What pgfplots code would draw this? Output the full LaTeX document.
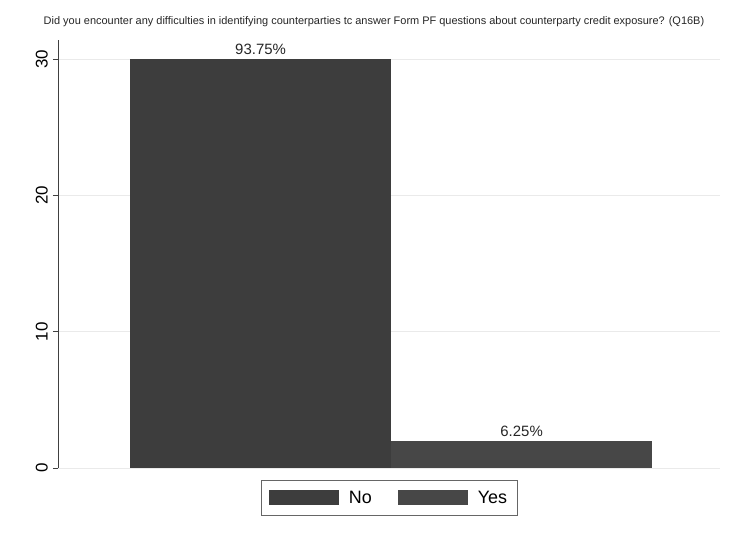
\documentclass[border=0pt]{standalone}
\usepackage{pgfplots}
\pgfplotsset{compat=1.18}
\usepackage{fontspec}
\setmainfont{Liberation Sans}
\definecolor{barNo}{HTML}{3D3D3D}
\definecolor{barYes}{HTML}{474747}
\definecolor{gridc}{HTML}{EAEAEA}
\begin{document}
\begin{tikzpicture}[x=1bp,y=1bp]
\path (-58,-71) rectangle (675,468);
\begin{axis}[
  at={(0,0)}, anchor=south west,
  scale only axis, width=662bp, height=428bp,
  xmin=0, xmax=2.536, ymin=0, ymax=31.4,
  axis x line=none,
  axis y line*=left,
  y axis line style={draw=black!75, line width=0.6pt, -},
  ytick={0,10,20,30},
  yticklabel style={rotate=90, font=\fontsize{17}{18}\selectfont, anchor=south, inner sep=5bp},
  /pgf/number format/assume math mode=true,
  tick style={draw=black!75, line width=0.6pt},
  major tick length=5bp,
  tick align=outside,
  ymajorgrids, grid style={draw=gridc, line width=0.6pt},
  ybar, bar width=1, bar shift=0pt,
  nodes near coords,
  every node near coord/.append style={font=\fontsize{15}{16}\selectfont, text=black!85, yshift=1bp},
  legend style={at={(0.5,-0.027)}, anchor=north, legend columns=2, draw=black!60,
    font=\fontsize{18}{19}\selectfont, inner xsep=8bp, inner ysep=9bp,
    /tikz/every odd column/.append style={column sep=8bp},
    /tikz/every even column/.append style={column sep=24bp}},
  legend image code/.code={\fill[#1] (0bp,-7.5bp) rectangle (70bp,7.5bp);},
  clip=false,
]
\addplot[fill=barNo, draw=none, nodes near coords={93.75\%}] coordinates {(0.776,30)};
\addplot[fill=barYes, draw=none, nodes near coords={6.25\%}] coordinates {(1.776,2)};
\legend{No,Yes}
\end{axis}
\node[font=\fontsize{11}{12}\selectfont, text=black!85] at (316,446) {Did you encounter any difficulties in identifying counterparties tc answer Form PF questions about counterparty credit exposure? (Q16B)};
\end{tikzpicture}
\end{document}
